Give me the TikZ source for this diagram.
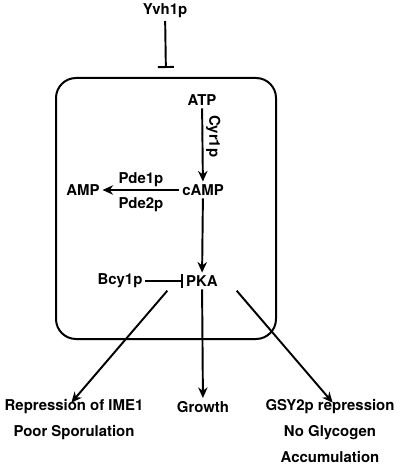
\documentclass[tikz,border=0pt]{standalone}
\usepackage{fontspec}
\setmainfont{TeX Gyre Heros}
\usetikzlibrary{arrows.meta,positioning}
\tikzset{
  >={Stealth[length=2.8mm,width=2.5mm]},
  % pathway
  mol/.style={font=\fontsize{11.2}{13}\selectfont\bfseries,inner sep=2pt},
  outtxt/.style={mol,align=center,font=\fontsize{11.2}{19.5}\selectfont\bfseries},
  act/.style={->,draw=black,line width=1.45pt},
  inh/.style={-{Bar[width=#1]},draw=black,line width=1.45pt},
  inh/.default=10pt,
  cellbox/.style={draw=black,line width=1.5pt,rounded corners=15pt,
    minimum width=165pt,minimum height=195.75pt},
}
\begin{document}
\begin{tikzpicture}[x=0.75pt,y=-0.75pt]
  \useasboundingbox (0,0) rectangle (400,466);
  \node[cellbox] (cell) at (166,208.5) {};
  \node[mol] (yvh) at (165,11) {Yvh1p};
  \node[mol] (atp) at (202,100) {ATP};
  \node[mol] (camp) at (203,190) {cAMP};
  \node[mol] (amp) at (83,190) {AMP};
  \node[mol] (pka) at (202,281) {PKA};
  \node[mol] (bcy) at (120,281) {Bcy1p};
  \node[outtxt,anchor=north] (rep) at (74,396) {Repression of IME1\\Poor Sporulation};
  \node[mol,anchor=north] (grow) at (203,398) {Growth};
  \node[outtxt,anchor=north] (gsy) at (330,396) {GSY2p repression\\No Glycogen\\Accumulation};

  \draw[inh=12pt,shorten >=6.75pt] (yvh) -- (cell.north);
  \draw[act] (atp) -- node[pos=0.38,rotate=-90,anchor=south,mol] (cyr) {Cyr1p} (camp);
  \draw[act] (camp.west) -- node[above=0pt,mol] (pde1) {Pde1p}
    node[below=3pt,mol] (pde2) {Pde2p} (amp.east);
  \draw[act] (camp) -- (pka);
  \draw[inh] (bcy.east) -- (pka.west);
  \draw[act] ([xshift=-12pt,yshift=-1pt]pka.south west) -- ([xshift=-2pt,yshift=-5pt]rep.north);
  \draw[act] (pka) -- (grow);
  \draw[act] ([xshift=12pt,yshift=-1pt]pka.south east) -- ([xshift=2pt,yshift=-5pt]gsy.north);
\end{tikzpicture}
\end{document}
